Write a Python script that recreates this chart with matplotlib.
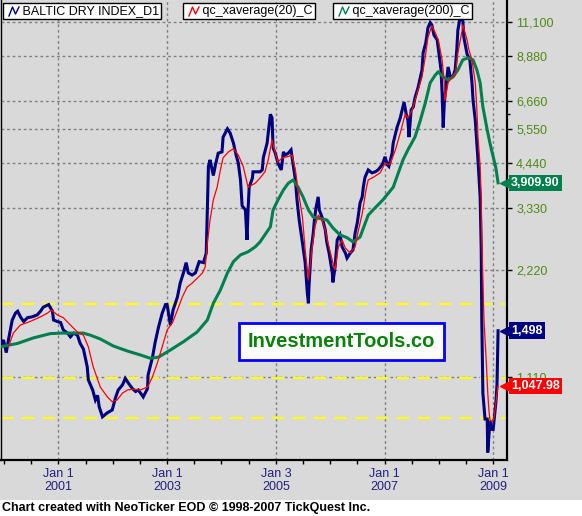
import matplotlib
matplotlib.use('Agg')
import matplotlib.pyplot as plt
import matplotlib.transforms as mtransforms
from matplotlib.lines import Line2D
from matplotlib.patches import Rectangle
from matplotlib.ticker import FixedLocator, NullFormatter, FuncFormatter
import numpy as np

plt.rcParams['font.family'] = ['Liberation Sans', 'DejaVu Sans']

# Baltic Dry Index (decimal year, index)
bdi_t = [1999.93, 1999.99, 2000.04, 2000.08, 2000.15, 2000.21, 2000.25, 2000.30, 2000.36, 2000.43,
         2000.52, 2000.61, 2000.67, 2000.72, 2000.82, 2000.89, 2000.91, 2000.98, 2001.04, 2001.09,
         2001.17, 2001.22, 2001.28, 2001.35, 2001.40, 2001.46, 2001.53, 2001.55, 2001.63, 2001.68,
         2001.72, 2001.75, 2001.81, 2001.90, 2001.99, 2002.05, 2002.10, 2002.18, 2002.23, 2002.29,
         2002.36, 2002.42, 2002.47, 2002.56, 2002.64, 2002.65, 2002.73, 2002.78, 2002.84, 2002.91,
         2002.97, 2003.00, 2003.06, 2003.11, 2003.19, 2003.24, 2003.30, 2003.35, 2003.39, 2003.46,
         2003.52, 2003.59, 2003.67, 2003.72, 2003.74, 2003.76, 2003.79, 2003.85, 2003.89, 2003.94,
         2004.01, 2004.03, 2004.11, 2004.16, 2004.22, 2004.27, 2004.31, 2004.35, 2004.38, 2004.44,
         2004.47, 2004.49, 2004.51, 2004.57, 2004.58, 2004.66, 2004.71, 2004.75, 2004.77, 2004.84,
         2004.86, 2004.90, 2004.93, 2004.95, 2004.99, 2005.04, 2005.10, 2005.14, 2005.17, 2005.23,
         2005.28, 2005.32, 2005.36, 2005.39, 2005.43, 2005.49, 2005.54, 2005.58, 2005.60, 2005.61,
         2005.65, 2005.69, 2005.71, 2005.74, 2005.78, 2005.80, 2005.85, 2005.91, 2005.94, 2005.98,
         2006.04, 2006.05, 2006.09, 2006.13, 2006.18, 2006.22, 2006.28, 2006.31, 2006.37, 2006.42,
         2006.46, 2006.50, 2006.55, 2006.59, 2006.61, 2006.64, 2006.70, 2006.77, 2006.83, 2006.88,
         2006.96, 2007.01, 2007.05, 2007.08, 2007.14, 2007.16, 2007.23, 2007.29, 2007.34, 2007.36,
         2007.40, 2007.43, 2007.45, 2007.49, 2007.53, 2007.56, 2007.62, 2007.69, 2007.71, 2007.76,
         2007.80, 2007.84, 2007.87, 2007.91, 2007.97, 2008.00, 2008.04, 2008.06, 2008.08, 2008.10,
         2008.13, 2008.17, 2008.21, 2008.26, 2008.30, 2008.33, 2008.35, 2008.39, 2008.44, 2008.46,
         2008.52, 2008.57, 2008.61, 2008.63, 2008.67, 2008.70, 2008.72, 2008.76, 2008.78, 2008.79,
         2008.81, 2008.85, 2008.89, 2008.90, 2008.94, 2008.96, 2009.00, 2009.03, 2009.05, 2009.07,
         2009.09]
bdi_v = [1350, 1411, 1300, 1411, 1606, 1680, 1700, 1640, 1590, 1630,
         1640, 1660, 1700, 1745, 1775, 1700, 1606, 1590, 1580, 1505,
         1475, 1440, 1475, 1455, 1380, 1330, 1185, 1089, 1020, 956,
         985, 915, 857, 880, 896, 970, 1020, 1055, 1100, 1065,
         1030, 1010, 1020, 975, 1030, 1125, 1260, 1390, 1530, 1680,
         1775, 1775, 1555, 1714, 1865, 2040, 2180, 2330, 2180, 2150,
         2180, 2345, 2330, 2480, 3330, 4350, 4537, 4100, 4400, 4740,
         4780, 5260, 5550, 5400, 5060, 4680, 4440, 3985, 3370, 3280,
         2700, 3300, 3800, 4035, 4200, 4200, 4200, 4250, 4600, 5060,
         5400, 6100, 5960, 4900, 4740, 4440, 4250, 4780, 4680, 4740,
         4840, 4400, 3985, 3500, 3073, 2650, 2330, 1910, 1790, 1990,
         2530, 2830, 3073, 3330, 3570, 3280, 3130, 2880, 2650, 2480,
         2180, 2050, 2265, 2700, 2790, 2580, 2480, 2400, 2480, 2530,
         2830, 3020, 3430, 3570, 3800, 4050, 4250, 4170, 4200, 4250,
         4400, 4630, 4400, 4350, 4740, 5060, 5600, 5960, 6400, 6600,
         6100, 5880, 5260, 6275, 6400, 6780, 7280, 8130, 9080, 9700,
         10700, 11050, 10900, 10200, 9875, 9080, 8130, 7000, 5600, 6560,
         7280, 8290, 7770, 7800, 8130, 9260, 10530, 11400, 11240, 10050,
         9000, 8680, 7480, 6660, 5880, 5060, 4537, 3570, 2530, 1606,
         1000, 845, 845, 680, 835, 790, 790, 880, 945, 1055,
         1498]

# qc_xaverage(20)
ema20_t = [2000.08, 2000.17, 2000.30, 2000.43, 2000.54, 2000.67, 2000.80, 2000.87, 2000.98, 2001.09,
           2001.22, 2001.35, 2001.46, 2001.55, 2001.64, 2001.77, 2001.90, 2001.99, 2002.08, 2002.18,
           2002.27, 2002.38, 2002.51, 2002.64, 2002.73, 2002.82, 2002.91, 2003.00, 2003.10, 2003.19,
           2003.28, 2003.37, 2003.46, 2003.56, 2003.65, 2003.70, 2003.74, 2003.79, 2003.85, 2003.92,
           2003.98, 2004.03, 2004.13, 2004.22, 2004.31, 2004.40, 2004.49, 2004.62, 2004.71, 2004.80,
           2004.86, 2004.93, 2004.99, 2005.04, 2005.12, 2005.21, 2005.30, 2005.36, 2005.41, 2005.49,
           2005.54, 2005.60, 2005.67, 2005.72, 2005.78, 2005.85, 2005.91, 2005.96, 2006.05, 2006.09,
           2006.15, 2006.22, 2006.28, 2006.37, 2006.46, 2006.51, 2006.59, 2006.66, 2006.70, 2006.79,
           2006.92, 2007.01, 2007.10, 2007.20, 2007.29, 2007.38, 2007.43, 2007.51, 2007.60, 2007.69,
           2007.75, 2007.80, 2007.87, 2007.93, 2007.99, 2008.06, 2008.10, 2008.11, 2008.17, 2008.24,
           2008.30, 2008.35, 2008.43, 2008.44, 2008.52, 2008.55, 2008.61, 2008.67, 2008.70, 2008.72,
           2008.76, 2008.78, 2008.79, 2008.81, 2008.83, 2008.87, 2008.90, 2008.92, 2008.94, 2008.98,
           2009.01, 2009.03, 2009.05, 2009.07, 2009.09]
ema20_v = [1350, 1475, 1555, 1580, 1606, 1640, 1680, 1714, 1660, 1630,
           1555, 1485, 1455, 1350, 1185, 1040, 975, 945, 956, 1000,
           1020, 1025, 1020, 1040, 1110, 1215, 1350, 1505, 1580, 1714,
           1865, 1990, 2040, 2110, 2180, 2265, 2650, 3073, 3500, 3800,
           4250, 4600, 4780, 4880, 4680, 4350, 3800, 3900, 4035, 4200,
           4537, 5165, 4740, 4480, 4600, 4630, 4680, 4250, 3734, 3130,
           2530, 2082, 2580, 2940, 3170, 3073, 2880, 2650, 2330, 2222,
           2580, 2700, 2560, 2480, 2580, 2830, 3200, 3734, 3985, 4050,
           4170, 4440, 4400, 4840, 5400, 6100, 5960, 6275, 7000, 7770,
           8850, 10050, 10830, 10380, 9875, 8680, 7480, 6660, 7480, 7770,
           7850, 9080, 10530, 10900, 9875, 9300, 8680, 7480, 6275, 5260,
           4350, 3500, 2700, 2100, 1600, 1250, 1000, 900, 840, 830,
           845, 890, 940, 1000, 1047.98]

# qc_xaverage(200)
ema200_t = [1999.93, 2000.25, 2000.54, 2000.85, 2001.04, 2001.46, 2001.59, 2001.77, 2002.01, 2002.27,
            2002.51, 2002.69, 2002.84, 2003.00, 2003.06, 2003.30, 2003.55, 2003.74, 2003.85, 2003.98,
            2004.11, 2004.22, 2004.35, 2004.49, 2004.62, 2004.71, 2004.90, 2004.95, 2005.04, 2005.14,
            2005.23, 2005.32, 2005.41, 2005.50, 2005.60, 2005.69, 2005.82, 2005.94, 2006.05, 2006.18,
            2006.31, 2006.42, 2006.55, 2006.70, 2006.79, 2006.97, 2007.16, 2007.34, 2007.43, 2007.56,
            2007.65, 2007.75, 2007.84, 2007.93, 2007.99, 2008.08, 2008.17, 2008.26, 2008.35, 2008.44,
            2008.54, 2008.63, 2008.70, 2008.76, 2008.81, 2008.89, 2008.94, 2009.00, 2009.05, 2009.09]
ema200_v = [1350, 1380, 1430, 1470, 1475, 1475, 1455, 1420, 1357, 1313,
            1280, 1253, 1262, 1305, 1322, 1395, 1485, 1606, 1790, 1951,
            2180, 2345, 2450, 2500, 2580, 2665, 2940, 3280, 3500, 3734,
            3900, 3985, 3800, 3570, 3280, 3130, 3100, 3073, 2920, 2790,
            2740, 2665, 2750, 3170, 3280, 3500, 3800, 4537, 4840, 5260,
            5800, 6560, 7480, 7850, 8040, 7770, 7620, 7770, 8130, 8680,
            8800, 8680, 8130, 7480, 6400, 5510, 5060, 4630, 4300, 3909.90]

support_levels = [1780, 1100, 850]
ytick_vals = [1110, 2220, 3330, 4440, 5550, 6660, 8880, 11100]
ytick_minor = [3885, 6105, 7215]
xtick_vals = [2001.0, 2003.0, 2005.0, 2007.0, 2009.0]
xtick_labels = ['Jan 1\n2001', 'Jan 1\n2003', 'Jan 3\n2005', 'Jan 1\n2007', 'Jan 1\n2009']
xtick_minor = np.arange(2000.0, 2009.01, 0.5)

W, H = 582, 516
BG = '#d9d9d9'
NAVY = '#000080'
RED = '#ff0000'
GREEN = '#00804f'

fig = plt.figure(figsize=(W / 100, H / 100), dpi=100, facecolor=BG)
ax = fig.add_axes([0.5 / W, 56 / H, 506.5 / W, 460 / H])
ax.set_facecolor(BG)

for lvl in support_levels:
    ax.axhline(lvl, color='#ffff00', lw=1.5, dashes=(6, 4), zorder=1.6)

ax.plot(bdi_t, bdi_v, color=NAVY, lw=2.2, zorder=3, solid_joinstyle='miter')
ax.plot(ema200_t, ema200_v, color=GREEN, lw=2.2, zorder=3.2)
ax.plot(ema20_t, ema20_v, color=RED, lw=0.9, zorder=3.4)

ax.set_yscale('log')
ax.set_ylim(647.7, 12800)
ax.set_xlim(1999.934, 2009.254)

ax.yaxis.set_major_locator(FixedLocator(ytick_vals))
ax.yaxis.set_major_formatter(FuncFormatter(lambda v, p: f'{v:,.0f}'))
ax.yaxis.set_minor_locator(FixedLocator(ytick_minor))
ax.yaxis.set_minor_formatter(NullFormatter())
ax.set_xticks(xtick_vals, xtick_labels)
ax.set_xticks(xtick_minor, minor=True)

ax.grid(True, which='major', color='#808080', lw=1, ls=(0, (2, 2)), zorder=1.5)
ax.tick_params(axis='x', which='both', direction='out', length=3, width=1,
               labelcolor='#202080', labelsize=9, pad=2.5)
ax.tick_params(axis='y', which='both', left=False, right=True, labelleft=False,
               labelright=True, direction='out', width=1, labelcolor='#4d8a12',
               labelsize=9, pad=3)
ax.tick_params(axis='y', which='major', length=3.6)
ax.tick_params(axis='y', which='minor', length=2.5)

ax.spines['top'].set_visible(False)
ax.spines['left'].set_linewidth(1)
ax.spines['bottom'].set_linewidth(1.6)
ax.spines['right'].set_linewidth(1.6)

# last-value tags on the right axis
trans = mtransforms.blended_transform_factory(ax.transAxes, ax.transData)
for val, fmt, col in [(ema200_v[-1], '{:,.2f}', GREEN), (bdi_v[-1], '{:,.0f}', NAVY),
                      (ema20_v[-1], '{:,.2f}', RED)]:
    ax.text(1 + 4 / 506.5, val, fmt.format(val), transform=trans, color='white',
            fontsize=9, fontweight='bold', va='center', ha='left', clip_on=False, zorder=6,
            bbox=dict(boxstyle='square,pad=0.18', fc=col, ec='none'))
    ax.plot([1 - 3.5 / 506.5], [val], marker='<', ms=6, color=col, transform=trans,
            clip_on=False, zorder=6)

# watermark
ax.text(341 / 506.5, 1 - 341.5 / 460, 'InvestmentTools.co', transform=ax.transAxes,
        color='#0b800b', fontsize=14.5, fontweight='bold', ha='center', va='center', zorder=7,
        bbox=dict(boxstyle='square,pad=0.45', fc='white', ec='#0000ff', lw=2))

# legend boxes on top
def legend_box(x0, label, color):
    fig.text((x0 + 2) / W, 1 - 11 / H, '     ' + label, fontsize=9, ha='left', va='center',
             color='black', zorder=8,
             bbox=dict(boxstyle='square,pad=0.18', fc='white', ec='black', lw=1))
    ix = np.array([0, 3.5, 6.5, 10]) + x0 + 6
    iy = H - (np.array([0, 9, 2, 9]) * -1 + 16)
    fig.add_artist(Line2D(ix / W, iy / H, color=color, lw=1, transform=fig.transFigure, zorder=9))

legend_box(3, 'BALTIC DRY INDEX_D1', NAVY)
legend_box(183, 'qc_xaverage(20)_C', RED)
legend_box(333, 'qc_xaverage(200)_C', GREEN)

# footer
fig.add_artist(Rectangle((0, 0), 1, 16 / H, transform=fig.transFigure, fc='white', ec='none', zorder=0))
fig.text(2 / W, 8 / H, 'Chart created with NeoTicker EOD \u00a9 1998-2007 TickQuest Inc.',
         fontsize=9, fontweight='bold', ha='left', va='center', color='black')

fig.savefig('out.png', dpi=100, facecolor=BG)
